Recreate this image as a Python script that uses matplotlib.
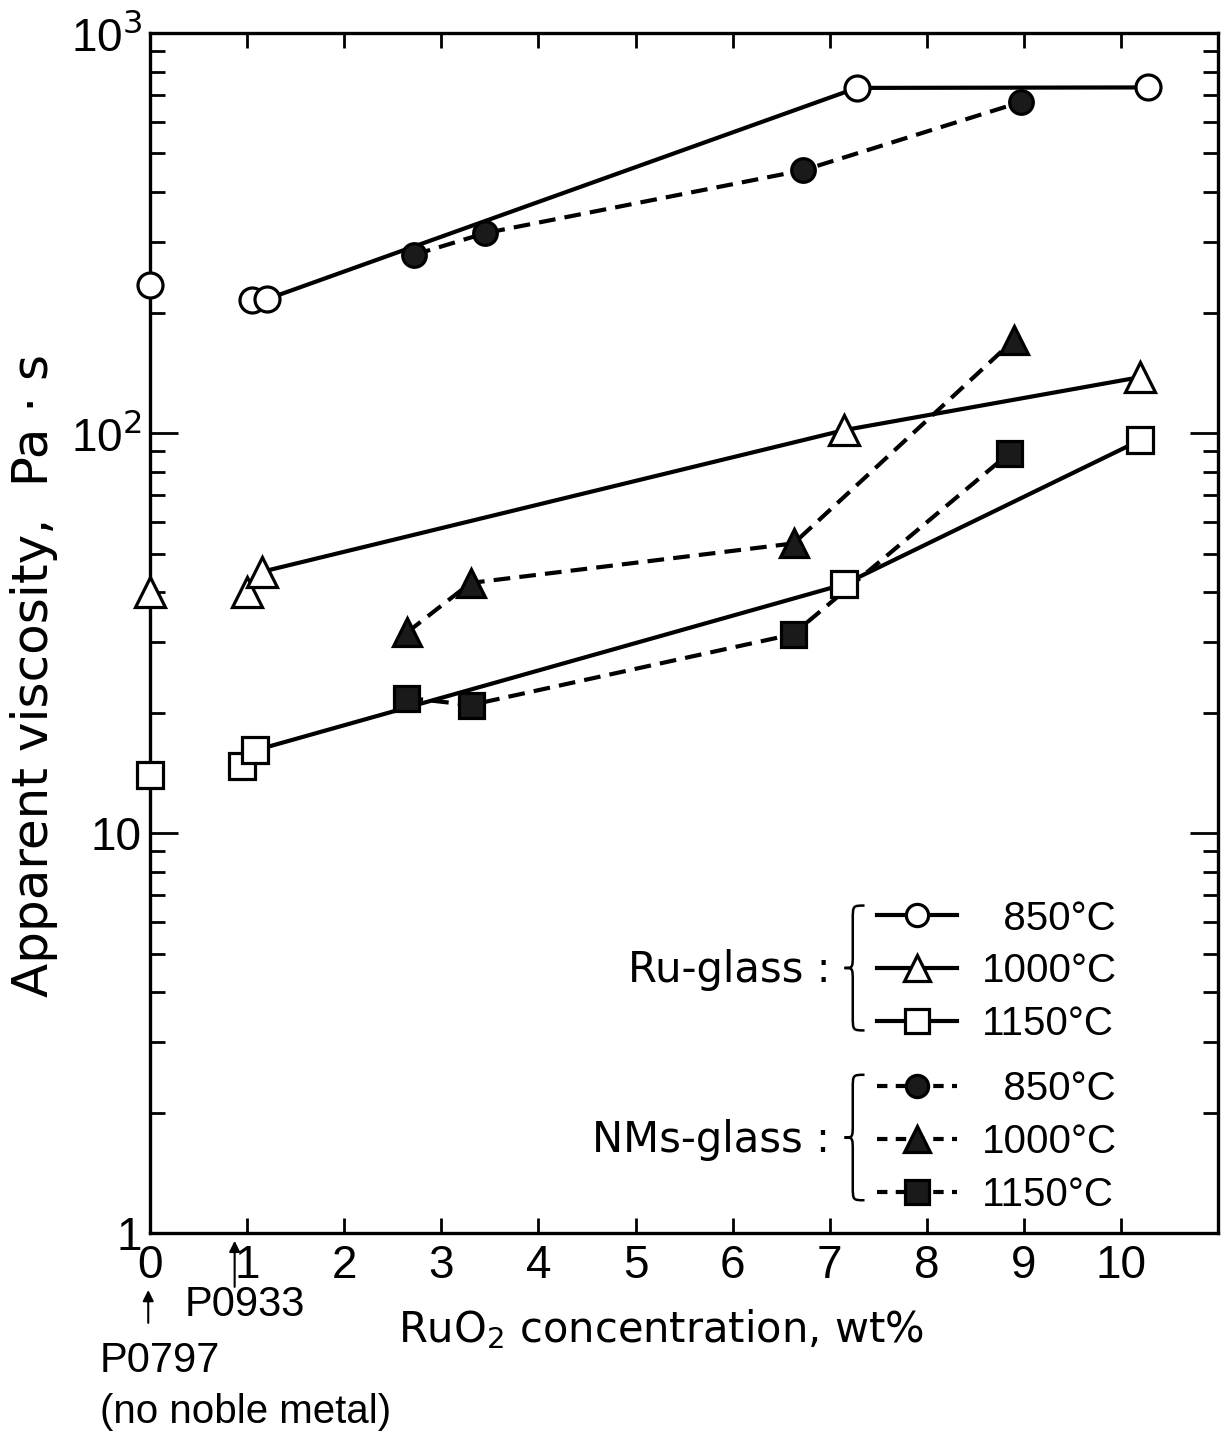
import numpy as np
import matplotlib
matplotlib.use('Agg')
from matplotlib import pyplot as plt
from matplotlib.lines import Line2D
from matplotlib.path import Path
from matplotlib.patches import PathPatch

plt.rcParams['font.family'] = ['DejaVu Sans']
NUM_FONT = ['Liberation Sans', 'DejaVu Sans']

# Ru-glass (open markers, solid lines)
ru850_x = [0.0, 1.05, 1.2, 7.28, 10.28]
ru850_y = [234, 215, 216, 729, 731]
ru1000_x = [0.0, 1.0, 1.15, 7.15, 10.2]
ru1000_y = [40, 40, 45, 101.7, 138]
ru1150_x = [0.0, 0.95, 1.08, 7.15, 10.2]
ru1150_y = [14, 14.7, 16.1, 41.9, 96]

# NMs-glass (filled markers, dashed lines)
nm850_x = [2.72, 3.45, 6.73, 8.97]
nm850_y = [279, 316, 454, 672]
nm1000_x = [2.65, 3.3, 6.63, 8.9]
nm1000_y = [31.8, 42.2, 53, 171]
nm1150_x = [2.64, 3.3, 6.62, 8.85]
nm1150_y = [21.8, 20.9, 31.4, 89]

temps = ['\u2007850°C', '1000°C', '1150°C']
x_ticks = list(range(0, 11))
y_ticks = [1, 10, 100, 1000]
y_ticklabels = ['1', '10', '10$^2$', '10$^3$']

LW = 3.0
MEW = 2.3
DASH = (4, 2.2)
FILL = '#1a1a1a'
ms = {'o': 18, '^': 21, 's': 19}

fig = plt.figure(figsize=(12.21, 14.34), dpi=100)
ax = fig.add_axes([0.123, 0.14, 0.8745, 0.837])


def ru_series(x, y, marker, start):
    ax.plot(x[start:], y[start:], '-', color='black', lw=LW, zorder=2)
    ax.plot(x, y, linestyle='none', marker=marker, ms=ms[marker], mfc='white',
            mec='black', mew=MEW, zorder=3, clip_on=False)


def nm_series(x, y, marker):
    ax.plot(x, y, '--', dashes=DASH, color='black', lw=LW, zorder=2)
    ax.plot(x, y, linestyle='none', marker=marker, ms=ms[marker] - 1, mfc=FILL,
            mec='black', mew=MEW, zorder=3)


ru_series(ru850_x, ru850_y, 'o', 2)
ru_series(ru1000_x, ru1000_y, '^', 2)
ru_series(ru1150_x, ru1150_y, 's', 2)
nm_series(nm850_x, nm850_y, 'o')
nm_series(nm1000_x, nm1000_y, '^')
nm_series(nm1150_x, nm1150_y, 's')

ax.set_yscale('log')
ax.set_xlim(0, 11)
ax.set_ylim(1, 1000)
ax.set_xticks(x_ticks)
ax.set_xticklabels([str(t) for t in x_ticks], fontfamily=NUM_FONT, fontsize=33)
ax.set_yticks(y_ticks)
ax.set_yticklabels(y_ticklabels, fontfamily=NUM_FONT, fontsize=33)
ax.yaxis.set_minor_locator(matplotlib.ticker.LogLocator(base=10, subs=np.arange(2, 10)))
ax.yaxis.set_minor_formatter(matplotlib.ticker.NullFormatter())
ax.tick_params(axis='x', which='major', direction='in', length=11, width=2,
               top=True, pad=8)
ax.tick_params(axis='y', which='major', direction='in', length=20, width=2,
               right=True, pad=6)
ax.tick_params(axis='y', which='minor', direction='in', length=11, width=2,
               right=True)
for sp in ax.spines.values():
    sp.set_linewidth(2.4)

ax.set_ylabel('Apparent viscosity,  Pa \u00b7 s', fontsize=36)
ax.yaxis.set_label_coords(-0.086, 0.465)
ax.set_xlabel('RuO$_2$ concentration, wt%', fontsize=30)
ax.xaxis.set_label_coords(0.478, -0.062)

# legend
def handles(mfc, ls):
    return [Line2D([], [], color='black', lw=LW, ls=ls, marker=m, ms=ms[m] - 2,
                   mfc=mfc, mec='black', mew=MEW) for m in ['o', '^', 's']]

leg_kw = dict(frameon=False, handlelength=2.0, handletextpad=0.6, labelspacing=0.37,
              borderpad=0, borderaxespad=0, loc='upper right',
              prop={'family': NUM_FONT, 'size': 29})
leg1 = ax.legend(handles('white', '-'), temps, bbox_to_anchor=(0.905, 0.278), **leg_kw)
ax.add_artist(leg1)
dash_handles = handles(FILL, '--')
for h in dash_handles:
    h.set_dashes((2.5, 2.0))
leg2 = ax.legend(dash_handles, temps, bbox_to_anchor=(0.905, 0.136), **leg_kw)

ax.text(0.637, 0.219, 'Ru-glass :', transform=ax.transAxes, ha='right',
        va='center', fontsize=30)
ax.text(0.637, 0.0775, 'NMs-glass :', transform=ax.transAxes, ha='right',
        va='center', fontsize=30)


def brace(x, y0, y1, w=0.011, r=0.012):
    ym = (y0 + y1) / 2
    verts = [(x + w, y1), (x, y1), (x, y1), (x, y1 - r),
             (x, ym + r),
             (x, ym), (x, ym), (x - w * 0.7, ym),
             (x, ym), (x, ym), (x, ym - r),
             (x, y0 + r),
             (x, y0), (x, y0), (x + w, y0)]
    codes = [Path.MOVETO, Path.CURVE4, Path.CURVE4, Path.CURVE4,
             Path.LINETO,
             Path.CURVE4, Path.CURVE4, Path.CURVE4,
             Path.CURVE4, Path.CURVE4, Path.CURVE4,
             Path.LINETO,
             Path.CURVE4, Path.CURVE4, Path.CURVE4]
    ax.add_patch(PathPatch(Path(verts, codes), fill=False, lw=1.8,
                           transform=ax.transAxes, clip_on=False))


brace(0.658, 0.169, 0.273)
brace(0.658, 0.0275, 0.132)

# sample annotations
ax.annotate('', xy=(0.87, -0.004), xycoords=('data', 'axes fraction'),
            xytext=(0.87, -0.047), textcoords=('data', 'axes fraction'),
            arrowprops=dict(arrowstyle='-|>', lw=1.5, color='black',
                            mutation_scale=16))
ax.text(0.35, -0.06, 'P0933', transform=ax.get_xaxis_transform(), ha='left',
        va='center', fontfamily=NUM_FONT, fontsize=30)
ax.annotate('', xy=(-0.02, -0.045), xycoords=('data', 'axes fraction'),
            xytext=(-0.02, -0.077), textcoords=('data', 'axes fraction'),
            arrowprops=dict(arrowstyle='-|>', lw=1.5, color='black',
                            mutation_scale=16))
fig.text(0.082, 0.051, 'P0797', ha='left', va='center', fontfamily=NUM_FONT,
         fontsize=30)
fig.text(0.082, 0.015, '(no noble metal)', ha='left', va='center',
         fontfamily=NUM_FONT, fontsize=29)

fig.savefig('out.png', dpi=100)
